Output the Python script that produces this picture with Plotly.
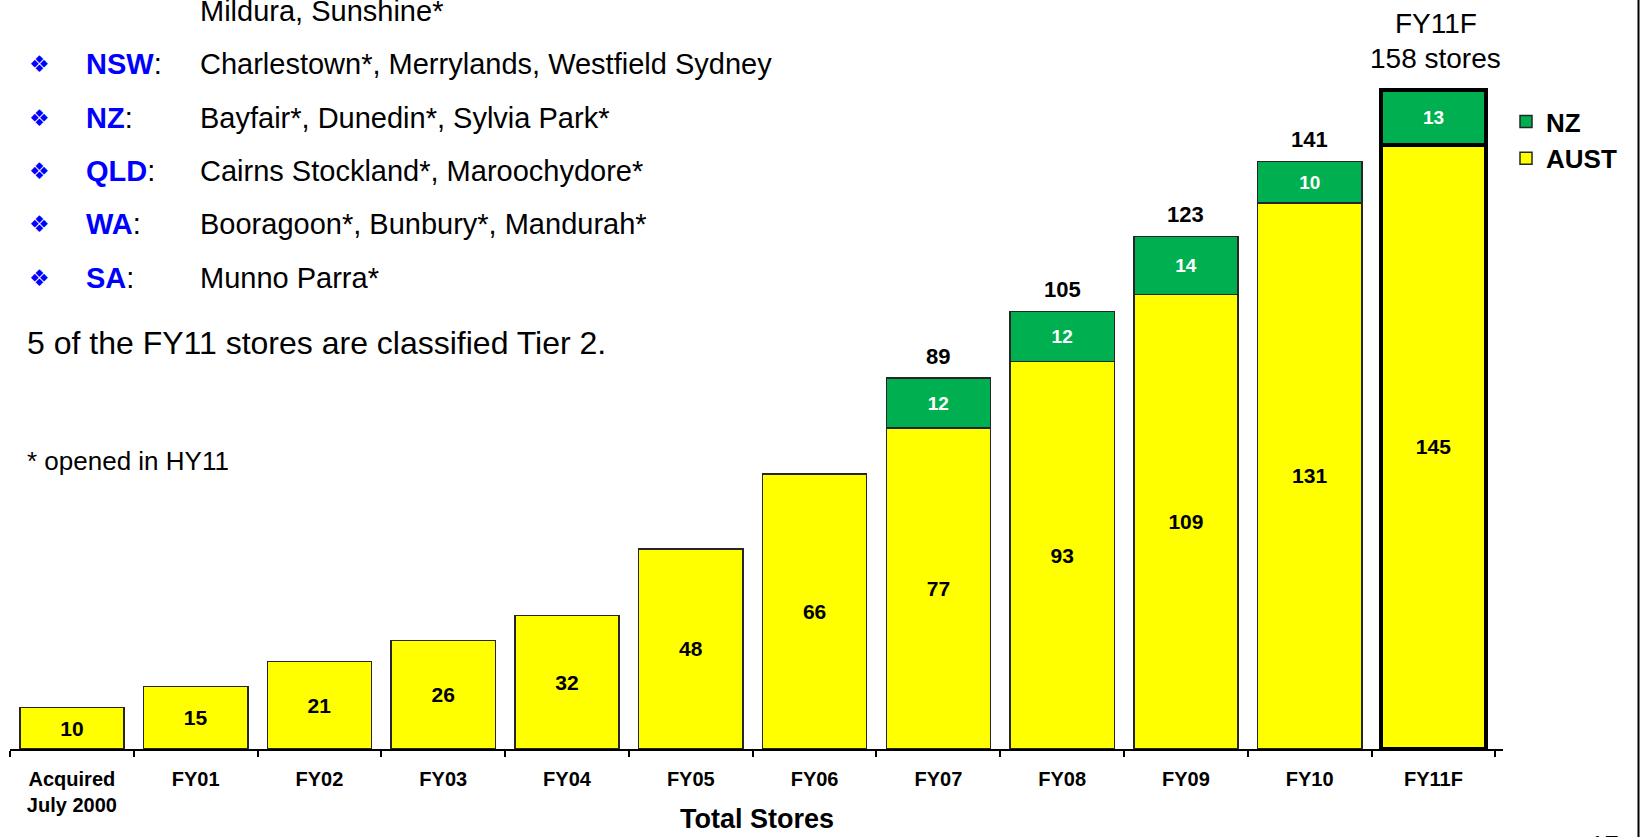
import plotly.graph_objects as go

# ---- data ----
categories = ["Acquired<br>July 2000", "FY01", "FY02", "FY03", "FY04", "FY05",
              "FY06", "FY07", "FY08", "FY09", "FY10", "FY11F"]
aust_stores = [10, 15, 21, 26, 32, 48, 66, 77, 93, 109, 131, 145]
nz_stores = [0, 0, 0, 0, 0, 0, 0, 12, 12, 14, 10, 13]
forecast_category = "FY11F"

states = ["NSW", "NZ", "QLD", "WA", "SA"]
new_stores = [
    "Charlestown*, Merrylands, Westfield Sydney",
    "Bayfair*, Dunedin*, Sylvia Park*",
    "Cairns Stockland*, Maroochydore*",
    "Booragoon*, Bunbury*, Mandurah*",
    "Munno Parra*",
]
carried_line = "Mildura, Sunshine*"
tier_note = "5 of the FY11 stores are classified Tier 2."
footnote = "* opened in HY11"
page_number = "17"

# ---- style ----
FONT = "Liberation Sans, Arial, sans-serif"
YELLOW = "#FFFF00"
GREEN = "#00B050"
BLUE = "#0000FF"
FIG_W, FIG_H = 1641, 837
L, R, T, B = 10, 1503, 0, 749          # plot area in pixels
PW, PH = R - L, B - T
Y_MAX = 179.7


def xp(x):
    return (x - L) / PW


def yp(y):
    return 1 - (y - T) / PH


totals = [a + n for a, n in zip(aust_stores, nz_stores)]
is_fc = [c == forecast_category for c in categories]
line_w = [4 if f else 1.5 for f in is_fc]
line_c = ["#000000" if f else "#262626" for f in is_fc]

fig = go.Figure()
fig.add_trace(go.Bar(
    name="AUST", x=categories, y=aust_stores,
    text=[str(v) for v in aust_stores],
    textposition="inside", insidetextanchor="middle", constraintext="none",
    textfont=dict(family=FONT, size=21, color="black", weight="bold"),
    marker=dict(color=YELLOW, line=dict(color=line_c, width=line_w)),
    legendgroup="aust", hoverinfo="skip",
))
fig.add_trace(go.Bar(
    name="NZ", x=categories, y=[v if v > 0 else None for v in nz_stores],
    text=[str(v) if v > 0 else "" for v in nz_stores],
    textposition="inside", insidetextanchor="middle", constraintext="none",
    textfont=dict(family=FONT, size=19, color="white", weight="bold"),
    marker=dict(color=GREEN, line=dict(color=line_c, width=line_w)),
    legendgroup="nz", hoverinfo="skip",
))

annotations = []

# totals above the stacked bars (actual years with NZ stores)
for c, n, t, f in zip(categories, nz_stores, totals, is_fc):
    if n > 0 and not f:
        annotations.append(dict(
            x=c, y=t, xref="x", yref="y", text=f"<b>{t}</b>", showarrow=False,
            yanchor="middle", yshift=22,
            font=dict(family=FONT, size=22, color="black")))

# forecast call-out
fc_idx = is_fc.index(True)
annotations.append(dict(
    x=forecast_category, y=yp(23), xref="x", yref="paper", text=forecast_category,
    showarrow=False, yanchor="middle", xshift=2,
    font=dict(family=FONT, size=28, color="black")))
annotations.append(dict(
    x=forecast_category, y=yp(58), xref="x", yref="paper",
    text=f"{totals[fc_idx]} stores", xshift=2,
    showarrow=False, yanchor="middle", font=dict(family=FONT, size=28, color="black")))

# axis title
annotations.append(dict(
    x=xp(757), y=yp(819), xref="paper", yref="paper", text="<b>Total Stores</b>",
    showarrow=False, yanchor="middle", font=dict(family=FONT, size=27, color="black")))

# text block on the left
row0, row_step = 11, 53.3
annotations.append(dict(
    x=xp(198), y=yp(row0), xref="paper", yref="paper", text=carried_line,
    showarrow=False, xanchor="left", yanchor="middle",
    font=dict(family=FONT, size=29, color="black")))
for i, (st, names) in enumerate(zip(states, new_stores)):
    yy = row0 + row_step * (i + 1)
    annotations.append(dict(
        x=xp(39), y=yp(yy), xref="paper", yref="paper", text="\u2756",
        showarrow=False, xanchor="center", yanchor="middle",
        font=dict(family="DejaVu Sans", size=23, color=BLUE)))
    annotations.append(dict(
        x=xp(84), y=yp(yy), xref="paper", yref="paper",
        text=f"<b><span style='color:{BLUE}'>{st}</span></b>:",
        showarrow=False, xanchor="left", yanchor="middle",
        font=dict(family=FONT, size=29, color="black")))
    annotations.append(dict(
        x=xp(198), y=yp(yy), xref="paper", yref="paper", text=names,
        showarrow=False, xanchor="left", yanchor="middle",
        font=dict(family=FONT, size=29, color="black")))

annotations.append(dict(
    x=xp(25), y=yp(343), xref="paper", yref="paper", text=tier_note,
    showarrow=False, xanchor="left", yanchor="middle",
    font=dict(family=FONT, size=32, color="black")))
annotations.append(dict(
    x=xp(25), y=yp(461), xref="paper", yref="paper", text=footnote,
    showarrow=False, xanchor="left", yanchor="middle",
    font=dict(family=FONT, size=26, color="black")))
annotations.append(dict(
    x=xp(1604), y=yp(828), xref="paper", yref="paper", text=page_number,
    showarrow=False, xanchor="center", yanchor="top",
    font=dict(family=FONT, size=26, color="black")))

fig.update_layout(
    width=FIG_W, height=FIG_H,
    margin=dict(l=L, r=FIG_W - R, t=T, b=FIG_H - B, pad=0),
    paper_bgcolor="white", plot_bgcolor="white",
    barmode="stack", bargap=0.158,
    font=dict(family=FONT, color="black"),
    showlegend=True,
    legend=dict(
        x=xp(1506), y=yp(98), xref="paper", yref="paper",
        xanchor="left", yanchor="top",
        traceorder="reversed", tracegroupgap=4,
        font=dict(family=FONT, size=26, color="black", weight="bold"),
        bgcolor="rgba(0,0,0,0)",
    ),
    xaxis=dict(
        type="category", showline=True, linecolor="black", linewidth=2,
        ticks="outside", tickson="boundaries", ticklen=6, tickwidth=1.5,
        tickcolor="black", showgrid=False, zeroline=False,
        tickfont=dict(family=FONT, size=20, color="black", weight="bold"),
        ticklabelstandoff=11,
    ),
    yaxis=dict(visible=False, range=[0, Y_MAX], showgrid=False, zeroline=False),
    annotations=annotations,
    shapes=[dict(type="line", xref="paper", yref="paper",
                 x0=xp(1638.5), x1=xp(1638.5), y0=yp(0), y1=yp(FIG_H),
                 line=dict(color="black", width=2))],
)

fig.write_html("out.html")
